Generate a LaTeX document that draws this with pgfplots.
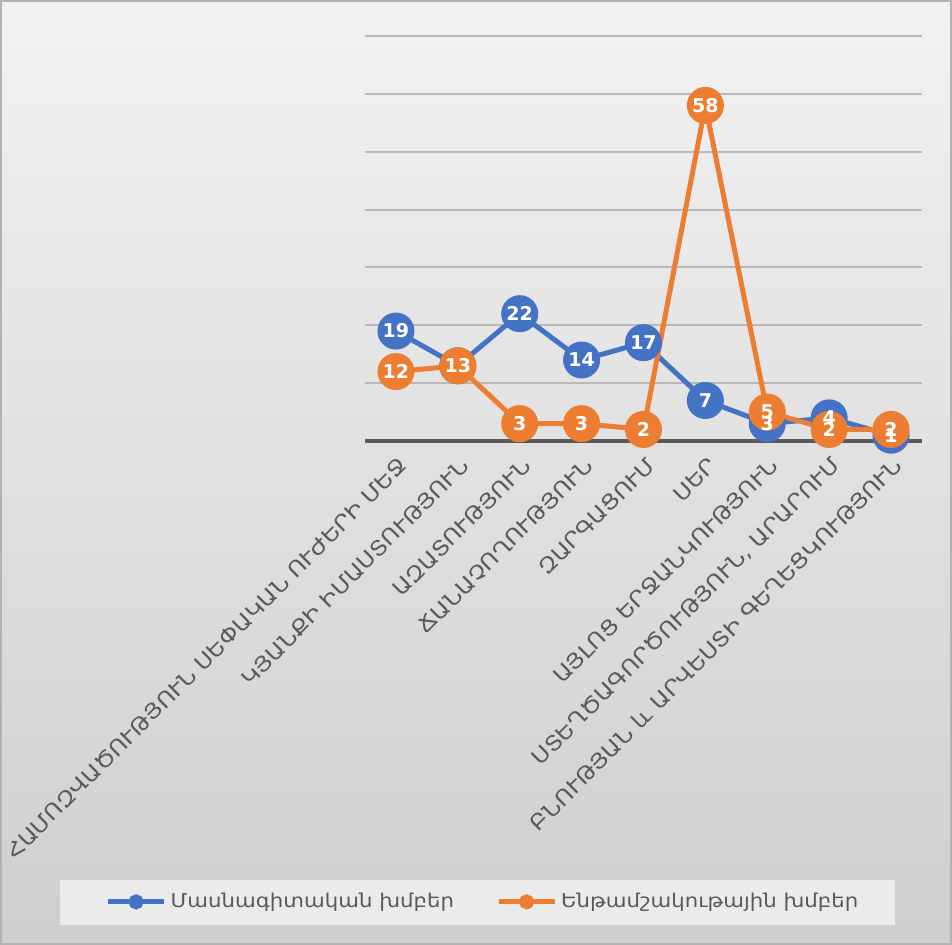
\documentclass[border=0pt]{standalone}
\usepackage{pgfplots}
\pgfplotsset{compat=1.18}
\usepackage{fontspec}
\setmainfont{DejaVu Sans}
\newfontfamily\armfont[FakeStretch=1.12]{DejaVu Sans}
\definecolor{cblue}{HTML}{4472C4}
\definecolor{corange}{HTML}{ED7D31}
\definecolor{tgray}{HTML}{595959}
\begin{document}
\begin{tikzpicture}
\shade[top color=black!5, bottom color=black!19] (-182.5pt,-252pt) rectangle (293.5pt,220.5pt);
\draw[black!30, line width=1pt] (-182pt,-251.5pt) rectangle (293pt,220pt);
\fill[black!8] (-152.5pt,-242pt) rectangle (265pt,-219.5pt);
\begin{axis}[scale only axis,
  width=278.5pt, height=202.5pt,
  xmin=-0.5, xmax=8.5, ymin=0, ymax=70, clip=false,
  /pgf/number format/assume math mode=true,
  axis line style={draw=none},
  ytick={10,20,...,70}, yticklabels={}, ymajorgrids,
  grid style={black!28, line width=1pt},
  major tick length=0pt,
  extra y ticks={0}, extra y tick labels={},
  extra y tick style={grid style={tgray, line width=2pt}},
  xtick={0,...,8},
  xticklabels={ՀԱՄՈԶՎԱԾՈՒԹՅՈՒՆ ՍԵՓԱԿԱՆ ՈՒԺԵՐԻ ՄԵՋ, ԿՅԱՆՔԻ ԻՄԱՍՏՈՒԹՅՈՒՆ, ԱԶԱՏՈՒԹՅՈՒՆ, ՃԱՆԱՉՈՂՈՒԹՅՈՒՆ, ԶԱՐԳԱՑՈՒՄ, ՍԵՐ, ԱՅԼՈՑ ԵՐՋԱՆԿՈՒԹՅՈՒՆ, {ՍՏԵՂԾԱԳՈՐԾՈՒԹՅՈՒՆ, ԱՐԱՐՈՒՄ}, ԲՆՈՒԹՅԱՆ և ԱՐՎԵՍՏԻ ԳԵՂԵՑԿՈՒԹՅՈՒՆ},
  xticklabel style={rotate=45, anchor=east, text=tgray, inner sep=2pt, yshift=-10pt, xshift=-2.5pt, font=\armfont\fontsize{10.5}{12}\selectfont},
  legend columns=2,
  legend style={at={(0.2136,-1.138)}, anchor=center, draw=none, fill=none,
    font=\armfont\fontsize{9.5}{11}\selectfont, text=tgray,
    /tikz/every even column/.append style={column sep=19pt}},
  legend image code/.code={
    \draw[#1, mark size=2.5pt, mark repeat=2, mark phase=2] plot coordinates {(0pt,0pt) (14pt,0pt) (28pt,0pt)};
  },
]
\addplot[cblue, line width=2.5pt, mark=*, mark size=8pt, mark options={fill=cblue, draw=cblue}]
  coordinates {(0,19)(1,13)(2,22)(3,14)(4,17)(5,7)(6,3)(7,4)(8,1)};
\addlegendentry{Մասնագիտական խմբեր}
\addplot[corange, line width=2.5pt, mark=*, mark size=8pt, mark options={fill=corange, draw=corange}]
  coordinates {(0,12)(1,13)(2,3)(3,3)(4,2)(5,58)(6,5)(7,2)(8,2)};
\addlegendentry{Ենթամշակութային խմբեր}
\addplot[draw=none, forget plot, nodes near coords, point meta=y,
  every node near coord/.style={anchor=center, text=white, font=\bfseries\fontsize{9.5}{10}\selectfont}]
  coordinates {(0,19)(2,22)(3,14)(4,17)(5,7)(6,3)(7,4)(8,1)};
\addplot[draw=none, forget plot, nodes near coords, point meta=y,
  every node near coord/.style={anchor=center, text=white, font=\bfseries\fontsize{9.5}{10}\selectfont}]
  coordinates {(0,12)(1,13)(2,3)(3,3)(4,2)(5,58)(6,5)(7,2)(8,2)};
\end{axis}
\pgfresetboundingbox
\path[use as bounding box] (-182.5pt,-252pt) rectangle (293.5pt,220.5pt);
\end{tikzpicture}
\end{document}
